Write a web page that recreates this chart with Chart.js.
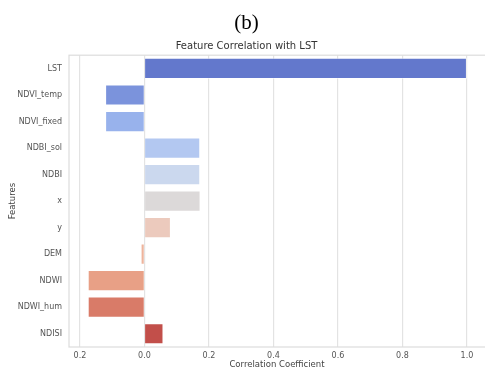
<!DOCTYPE html>
<html>
<head>
<meta charset="utf-8">
<script src="https://cdn.jsdelivr.net/npm/chart.js@4"></script>
<style>
  html, body { margin: 0; padding: 0; background: #fff; }
  #wrap { width: 485px; height: 371px; }
</style>
</head>
<body>
<div id="wrap"><canvas id="corrChart"></canvas></div>
<script>
// data
const features = ['LST', 'NDVI_temp', 'NDVI_fixed', 'NDBI_sol', 'NDBI', 'x', 'y', 'DEM', 'NDWI', 'NDWI_hum', 'NDISI'];
const correlations = [1.0, -0.122, -0.122, 0.173, 0.173, 0.174, 0.082, -0.012, -0.176, -0.176, 0.059];
const barColors = ['#6378cc', '#7b93dc', '#98b2ec', '#b3c8f1', '#cbd8ee', '#dcd9d9', '#eccabd', '#eeb49c', '#e8a086', '#d97b68', '#c24f4a'];
const tickValues = [-0.2, 0, 0.2, 0.4, 0.6, 0.8, 1.0];
const tickLabels = ['0.2', '0.0', '0.2', '0.4', '0.6', '0.8', '1.0'];

const frame = {
    id: 'frame',
    beforeDatasetsDraw(chart) {
        const a = chart.chartArea, c = chart.ctx;
        c.save();
        c.strokeStyle = '#dcdcdc';
        c.lineWidth = 1.2;
        c.strokeRect(a.left, a.top, a.right - a.left + 2, a.bottom - a.top);
        c.restore();
    }
};

const ctx = document.getElementById('corrChart').getContext('2d');
new Chart(ctx, {
    type: 'bar',
    data: {
        labels: features,
        datasets: [{
            data: correlations,
            backgroundColor: barColors,
            borderColor: 'rgba(255,255,255,0.5)',
            borderWidth: 1,
            barPercentage: 0.8,
            categoryPercentage: 1.0
        }]
    },
    plugins: [frame],
    options: {
        indexAxis: 'y',
        responsive: true,
        maintainAspectRatio: false,
        animation: false,
        layout: { padding: { left: 8, right: 0, top: 0, bottom: 0 } },
        plugins: {
            legend: { display: false },
            tooltip: { enabled: false },
            title: {
                display: true,
                text: '(b)',
                color: '#000',
                font: { family: 'Liberation Serif', size: 21, weight: 'normal' },
                padding: { top: 11, bottom: 4 }
            },
            subtitle: {
                display: true,
                text: 'Feature Correlation with LST',
                color: '#333',
                font: { family: 'DejaVu Sans', size: 10 },
                padding: { top: 0, bottom: 3 }
            }
        },
        scales: {
            x: {
                min: -0.234,
                max: 1.056,
                afterBuildTicks(scale) {
                    scale.ticks = tickValues.map(v => ({ value: v }));
                },
                afterFit(scale) { scale.height = 24; },
                ticks: {
                    color: '#555',
                    font: { family: 'DejaVu Sans', size: 8 },
                    padding: 4,
                    maxRotation: 0,
                    callback: (v, i) => tickLabels[i]
                },
                grid: { color: '#e3e3e3', lineWidth: 1.2, drawTicks: false },
                border: { display: false },
                title: {
                    display: true,
                    text: 'Correlation Coefficient',
                    color: '#444',
                    font: { family: 'DejaVu Sans', size: 8.5 },
                    padding: { top: 0, bottom: 1 }
                }
            },
            y: {
                afterFit(scale) { scale.width = 61; },
                ticks: {
                    color: '#555',
                    font: { family: 'DejaVu Sans', size: 8 },
                    padding: 7
                },
                grid: { display: false, drawTicks: false },
                border: { display: false },
                title: {
                    display: true,
                    text: 'Features',
                    color: '#444',
                    font: { family: 'DejaVu Sans', size: 8.5 },
                    padding: { top: 0, bottom: 0 }
                }
            }
        }
    }
});
</script>
</body>
</html>
